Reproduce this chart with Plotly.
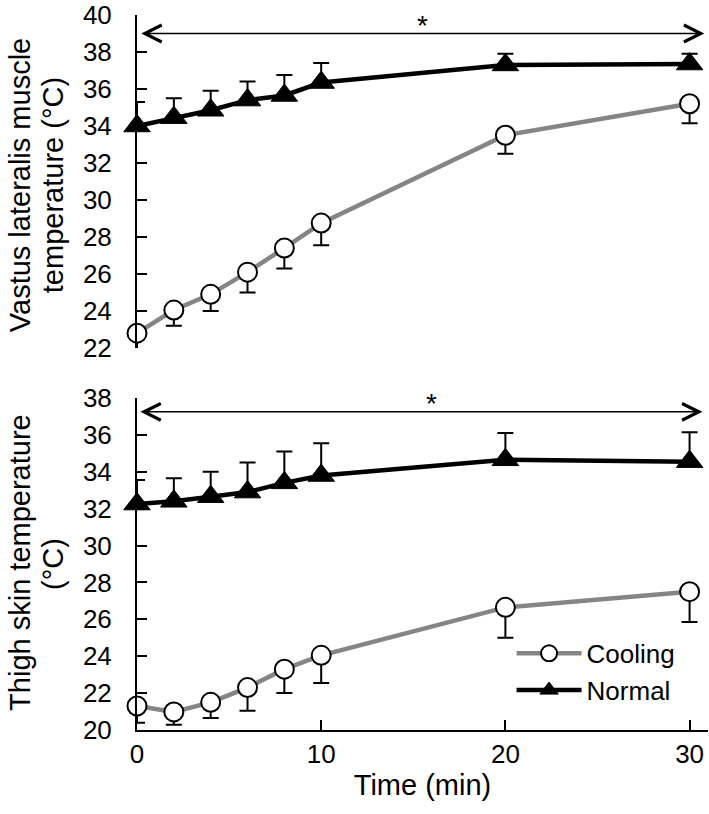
import plotly.graph_objects as go

time = [0, 2, 4, 6, 8, 10, 20, 30]

# Vastus lateralis muscle temperature (top)
muscle_cooling = [22.8, 24.05, 24.9, 26.1, 27.4, 28.75, 33.5, 35.2]
muscle_cooling_err = [1.2, 0.85, 0.9, 1.1, 1.1, 1.2, 1.0, 1.05]
muscle_normal = [34.0, 34.45, 34.85, 35.4, 35.65, 36.35, 37.3, 37.35]
muscle_normal_err = [1.3, 1.05, 1.05, 1.0, 1.1, 1.05, 0.6, 0.55]

# Thigh skin temperature (bottom)
skin_cooling = [21.3, 20.98, 21.5, 22.3, 23.3, 24.05, 26.65, 27.5]
skin_cooling_err = [0.9, 0.7, 0.85, 1.25, 1.3, 1.5, 1.65, 1.65]
skin_normal = [32.25, 32.4, 32.65, 32.9, 33.4, 33.8, 34.65, 34.55]
skin_normal_err = [1.3, 1.25, 1.35, 1.6, 1.7, 1.75, 1.45, 1.6]

series_names = ["Cooling", "Normal"]
y_ticks_top = [22, 24, 26, 28, 30, 32, 34, 36, 38, 40]
y_ticks_bottom = [20, 22, 24, 26, 28, 30, 32, 34, 36, 38]
x_ticks = [0, 10, 20, 30]

FONT = "Liberation Sans, Arial, sans-serif"
GRAY = "#858585"
TICK_SIZE = 26
TITLE_SIZE = 29

fig = go.Figure()


def add_pair(cool, cool_err, norm, norm_err, xa, ya, show):
    fig.add_trace(go.Scatter(
        x=time, y=cool, name=series_names[0], xaxis=xa, yaxis=ya,
        mode="lines+markers", showlegend=show, cliponaxis=False,
        line=dict(color=GRAY, width=4.5),
        marker=dict(symbol="circle", size=19, color="white",
                    line=dict(color="black", width=2)),
        error_y=dict(type="data", symmetric=False, array=[0] * len(cool),
                     arrayminus=cool_err, color="black", thickness=2, width=8),
    ))
    fig.add_trace(go.Scatter(
        x=time, y=norm, name=series_names[1], xaxis=xa, yaxis=ya,
        mode="lines+markers", showlegend=show, cliponaxis=False,
        line=dict(color="black", width=4.5),
        marker=dict(symbol="triangle-up", size=23, color="black",
                    line=dict(color="black", width=1)),
        error_y=dict(type="data", symmetric=False, array=norm_err,
                     arrayminus=[0] * len(norm), color="black", thickness=2, width=8),
    ))


add_pair(muscle_cooling, muscle_cooling_err, muscle_normal, muscle_normal_err, "x2", "y2", False)
add_pair(skin_cooling, skin_cooling_err, skin_normal, skin_normal_err, "x", "y", True)

axis_common = dict(showline=True, linecolor="black", linewidth=2,
                   ticks="inside", ticklen=10, tickwidth=2, tickcolor="black",
                   showgrid=False, zeroline=False, automargin=False,
                   tickfont=dict(family=FONT, size=TICK_SIZE, color="black"))

fig.update_layout(
    width=709, height=814,
    margin=dict(l=137, r=1, t=15, b=84),
    plot_bgcolor="white", paper_bgcolor="white",
    font=dict(family=FONT, size=TICK_SIZE, color="black"),
    xaxis=dict(domain=[0, 1], range=[0, 31], tickvals=x_ticks,
               ticklabelstandoff=0, anchor="y",
               title=dict(text="Time (min)", font=dict(family=FONT, size=TITLE_SIZE), standoff=4),
               **axis_common),
    yaxis=dict(domain=[0, 0.4643], range=[20, 38], tickvals=y_ticks_bottom,
               ticklabelstandoff=18, anchor="x", **axis_common),
    xaxis2=dict(domain=[0, 1], range=[0, 31], visible=False, anchor="y2", automargin=False),
    yaxis2=dict(domain=[0.5343, 1], range=[22, 40], tickvals=y_ticks_top,
                ticklabelstandoff=18, anchor="x2", **axis_common),
    legend=dict(x=0.656, y=0.140, xanchor="left", yanchor="top",
                bgcolor="rgba(0,0,0,0)", font=dict(family=FONT, size=TICK_SIZE),
                itemwidth=65, tracegroupgap=0),
)

# y-axis titles (one annotation per line)
for text, yref, yv, shift in [("Vastus lateralis muscle", "y2", 30.8, -117),
                              ("temperature (°C)", "y2", 30.8, -84),
                              ("Thigh skin temperature", "y", 29.06, -117),
                              ("(°C)", "y", 29.0, -84)]:
    fig.add_annotation(text=text, textangle=-90, xref="paper", yref=yref, x=0, y=yv,
                       xshift=shift, showarrow=False,
                       font=dict(family=FONT, size=TITLE_SIZE),
                       xanchor="center", yanchor="middle")

# double-headed significance arrows with asterisk
for xa, ya, yv, x0, x1, star_y, star_x in [("x2", "y2", 39.0, 0.15, 30.8, 39.45, 15.5),
                                          ("x", "y", 37.25, 0.1, 30.7, 37.7, 16.0)]:
    fig.add_annotation(x=x1, y=yv, ax=x0, ay=yv, xref=xa, yref=ya, axref=xa, ayref=ya,
                       showarrow=True, arrowhead=5, startarrowhead=5, arrowside="end+start",
                       arrowwidth=1.5, arrowsize=2.2, startarrowsize=2.2,
                       arrowcolor="black", text="")
    fig.add_annotation(x=star_x, y=star_y, xref=xa, yref=ya, text="*", showarrow=False,
                       font=dict(family=FONT, size=28))

# remove the default page margin so the figure fills the window exactly
fig.write_html("out.html", config={"displayModeBar": False},
               post_script="document.body.style.margin='0';document.body.style.overflow='hidden';")
